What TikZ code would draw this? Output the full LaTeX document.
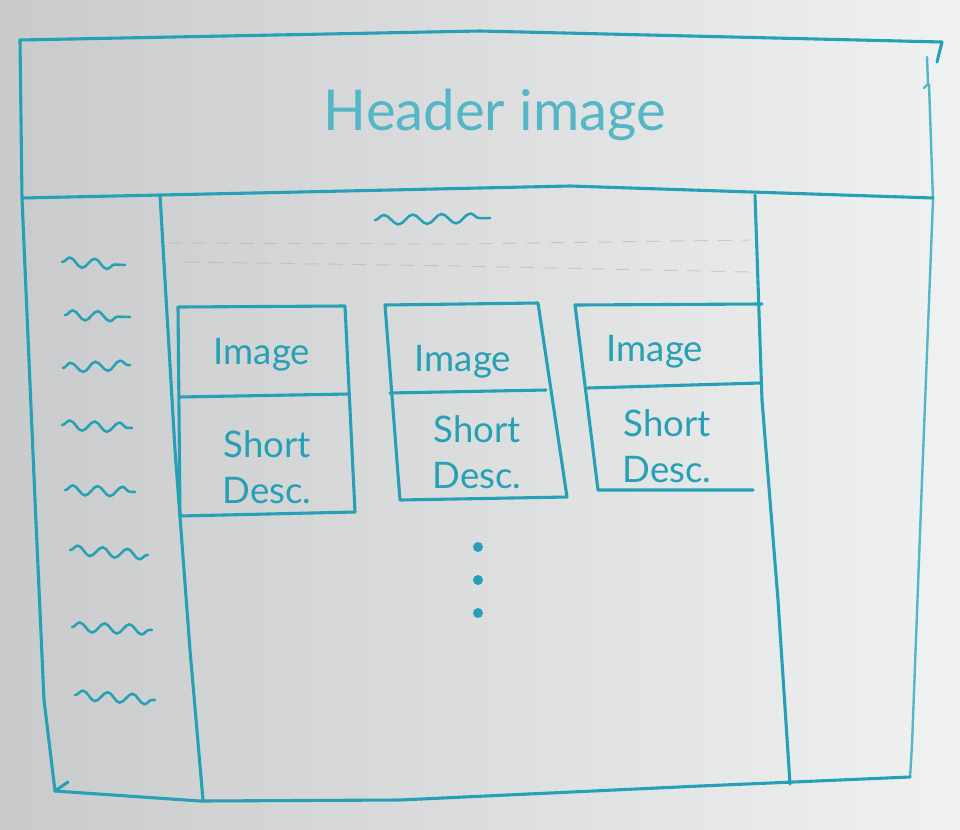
\documentclass[tikz,border=0pt]{standalone}
\usepackage{fontspec}
\setmainfont{Lato}
\usetikzlibrary{decorations.pathmorphing}
\definecolor{pen}{RGB}{38,160,180}
\definecolor{penlight}{RGB}{84,182,198}
\definecolor{paperleft}{RGB}{200,202,203}
\definecolor{paperright}{RGB}{240,241,241}
\definecolor{erased}{RGB}{165,167,167}

\begin{document}
\begin{tikzpicture}
    [
    x = 0.025cm, y = -0.025cm,
    every node/.style = {font=\fontsize{26}{33}\selectfont, text=pen, align=center, inner sep=0pt},
    ink/.style        = {draw=pen, line width=2.2pt, line cap=round, line join=round},
    lightink/.style   = {ink, draw=penlight, line width=1.7pt},
    squiggle/.style   = {draw=pen, line width=1.8pt, line cap=round, decorate,
                         decoration={snake, segment length=0.62cm, amplitude=0.12cm}},
    smudge/.style     = {draw=erased, line width=0.7pt, dash pattern=on 10pt off 7pt, opacity=0.45},
    bullet/.style     = {circle, fill=pen, minimum size=0.25cm}
    ]
    % paper
    \useasboundingbox (0,0) rectangle (960,829);
    \shade [left color=paperleft, right color=paperright] (0,0) rectangle (960,829);

    % outer frame
    \draw [ink] (20,40) -- (480,31) -- (942,42) -- (937,62);
    \draw [lightink] (927,57) -- (928,84) -- (924,88);
    \draw [lightink] (929,84) -- (933,200) -- (922,480) -- (912,745) -- (910,777);
    \draw [ink] (20,40) -- (22,198) -- (35,500) -- (44,700) -- (55,791) -- (68,782);
    \draw [ink] (55,791) -- (200,801) -- (400,800) -- (700,786) -- (910,777);

    % header band
    \draw [ink] (22,198) -- (300,192) -- (570,186) -- (933,198);
    \node (header) at (495,115) [font=\fontsize{40}{44}\selectfont, text=penlight] {Header image};

    % side columns
    \draw [ink] (160,195) -- (175,450) -- (190,650) -- (203,800);
    \draw [ink] (755,195) -- (762,400) -- (778,600) -- (790,784);

    % menu entries
    \foreach \xa/\ya/\xb/\yb in {62/262/125/265, 65/315/130/317, 63/368/130/365, 62/425/132/428,
                                 65/490/135/492, 70/550/148/555, 72/627/152/630, 75/695/155/700}
        \draw [squiggle] (\xa,\ya) -- (\xb,\yb);

    % page title and erased lines
    \draw [squiggle, decoration={segment length=0.72cm}] (375,220) -- (490,218);
    \draw [smudge] (168,243) -- (460,244) -- (750,240);
    \draw [smudge] (185,262) -- (460,266) -- (750,272);

    % cards
    \draw [ink] (178,307) -- (345,306) -- (355,512) -- (180,516) -- cycle;
    \draw [ink] (179,397) -- (349,394);
    \draw [ink] (385,305) -- (538,303) -- (567,497) -- (400,500) -- cycle;
    \draw [ink] (390,393) -- (546,390);
    \draw [ink] (575,305) -- (762,304);
    \draw [ink] (575,305) -- (598,490) -- (753,490);
    \draw [ink] (588,388) -- (760,383);

    \node (image1) at (262,355) {Image};
    \node (image2) at (463,362) {Image};
    \node (image3) at (655,352) {Image};
    \node (desc1)  at (267,467) {Short\\Desc.};
    \node (desc2)  at (477,452) {Short\\Desc.};
    \node (desc3)  at (667,446) {Short\\Desc.};

    % more cards follow
    \foreach \y [count=\i] in {547,580,613}
        \node (dot\i) at (478,\y) [bullet] {};
\end{tikzpicture}
\end{document}
